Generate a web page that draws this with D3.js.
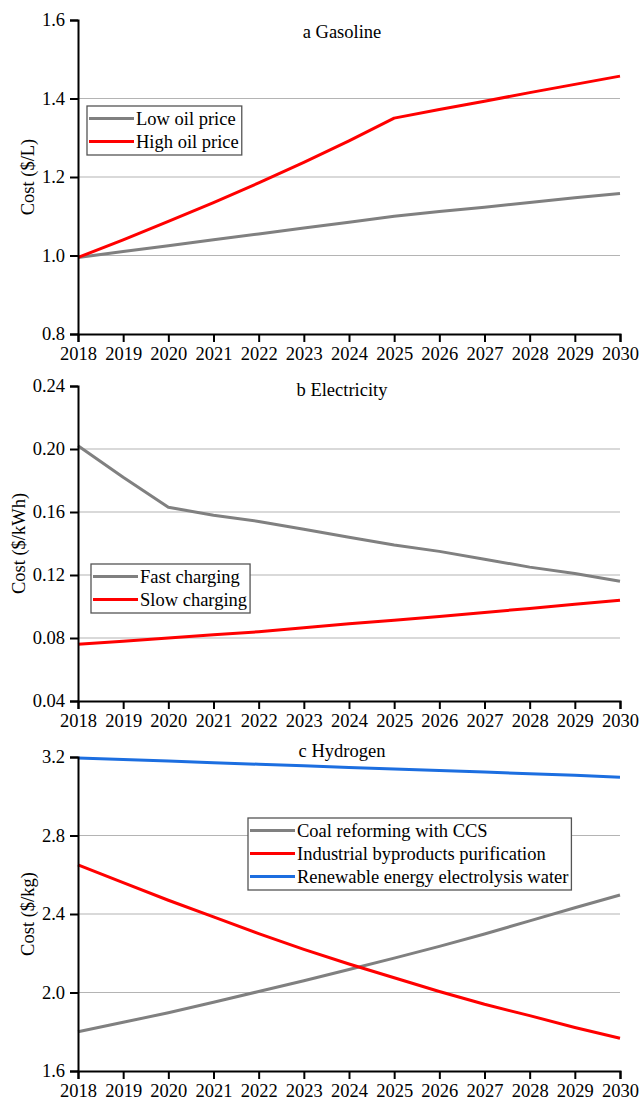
<!DOCTYPE html>
<html>
<head>
<meta charset="utf-8">
<script src="https://cdn.jsdelivr.net/npm/d3@7"></script>
<style>
  html, body { margin: 0; padding: 0; background: #fff; }
  svg { display: block; font-family: "Liberation Serif", "Times New Roman", serif; }
</style>
</head>
<body>
<svg id="chart" width="640" height="1101"></svg>
<script>
// Years on the horizontal axis
const years = [2018, 2019, 2020, 2021, 2022, 2023, 2024, 2025, 2026, 2027, 2028, 2029, 2030];

// a Gasoline ($/L)
const gasolineLow  = [0.995, 1.010, 1.025, 1.040, 1.055, 1.070, 1.085, 1.100, 1.112, 1.123, 1.135, 1.147, 1.158];
const gasolineHigh = [0.995, 1.040, 1.087, 1.135, 1.185, 1.237, 1.292, 1.350, 1.372, 1.393, 1.415, 1.436, 1.457];
const gasolineTicks = [0.8, 1.0, 1.2, 1.4, 1.6];

// b Electricity ($/kWh)
const fastCharging = [0.202, 0.182, 0.163, 0.158, 0.154, 0.149, 0.144, 0.139, 0.135, 0.130, 0.125, 0.121, 0.116];
const slowCharging = [0.076, 0.078, 0.080, 0.082, 0.084, 0.0865, 0.089, 0.0913, 0.0937, 0.0962, 0.0988, 0.1014, 0.104];
const electricityTicks = [0.04, 0.08, 0.12, 0.16, 0.20, 0.24];

// c Hydrogen ($/kg)
const coalCCS      = [1.800, 1.848, 1.897, 1.950, 2.005, 2.060, 2.117, 2.175, 2.235, 2.298, 2.365, 2.432, 2.497];
const byproducts   = [2.650, 2.560, 2.470, 2.385, 2.300, 2.220, 2.145, 2.075, 2.005, 1.940, 1.882, 1.822, 1.767];
const electrolysis = [3.195, 3.187, 3.179, 3.171, 3.163, 3.155, 3.147, 3.139, 3.131, 3.123, 3.115, 3.107, 3.097];
const hydrogenTicks = [1.6, 2.0, 2.4, 2.8, 3.2];

const GRAY = "#808080", RED = "#ff0000", BLUE = "#1c6ee0";
const FONT = "'Liberation Serif', 'Times New Roman', serif";
const FS = "18.5px";

const panels = [
  {
    title: "a Gasoline", yLabel: "Cost ($/L)", ticks: gasolineTicks, fmt: d3.format(".1f"),
    top: 20, bottom: 334, titleY: 38, labelX: 34,
    series: [
      { name: "Low oil price", values: gasolineLow, color: GRAY },
      { name: "High oil price", values: gasolineHigh, color: RED }
    ],
    legend: { x: 87, y: 106 }
  },
  {
    title: "b Electricity", yLabel: "Cost ($/kWh)", ticks: electricityTicks, fmt: d3.format(".2f"),
    top: 386, bottom: 701, titleY: 396, labelX: 25,
    series: [
      { name: "Fast charging", values: fastCharging, color: GRAY },
      { name: "Slow charging", values: slowCharging, color: RED }
    ],
    legend: { x: 91, y: 564 }
  },
  {
    title: "c Hydrogen", yLabel: "Cost ($/kg)", ticks: hydrogenTicks, fmt: d3.format(".1f"),
    top: 757, bottom: 1071, titleY: 757, labelX: 34,
    series: [
      { name: "Coal reforming with CCS", values: coalCCS, color: GRAY },
      { name: "Industrial byproducts purification", values: byproducts, color: RED },
      { name: "Renewable energy electrolysis water", values: electrolysis, color: BLUE }
    ],
    legend: { x: 248, y: 818 }
  }
];

const svg = d3.select("#chart");
const left = 78, right = 620;
const x = d3.scaleLinear().domain([years[0], years[years.length - 1]]).range([left, right]);

panels.forEach(p => {
  const g = svg.append("g");
  const y = d3.scaleLinear().domain([p.ticks[0], p.ticks[p.ticks.length - 1]]).range([p.bottom, p.top]);

  // horizontal grid at interior ticks
  g.append("g").selectAll("line")
    .data(p.ticks.slice(1, -1))
    .join("line")
    .attr("x1", left).attr("x2", right)
    .attr("y1", d => y(d)).attr("y2", d => y(d))
    .attr("stroke", "#b4b4b4").attr("stroke-width", 1.2);

  // series lines
  const line = d3.line().x((d, i) => x(years[i])).y(d => y(d));
  p.series.forEach(s => {
    g.append("path")
      .datum(s.values)
      .attr("d", line)
      .attr("fill", "none")
      .attr("stroke", s.color)
      .attr("stroke-width", 3)
      .attr("stroke-linejoin", "round");
  });

  // axes
  const xAxis = g.append("g")
    .attr("transform", `translate(0,${p.bottom})`)
    .call(d3.axisBottom(x).tickValues(years).tickFormat(d3.format("d")).tickSizeOuter(0).tickSize(8).tickPadding(5));
  const yAxis = g.append("g")
    .attr("transform", `translate(${left},0)`)
    .call(d3.axisLeft(y).tickValues(p.ticks).tickFormat(p.fmt).tickSizeOuter(0).tickSize(8).tickPadding(5));
  [xAxis, yAxis].forEach(a => {
    a.attr("font-family", FONT).attr("font-size", FS);
    a.select(".domain").attr("stroke", "#000").attr("stroke-width", 2);
    a.selectAll(".tick line").attr("stroke", "#000").attr("stroke-width", 2);
    a.selectAll(".tick text").attr("fill", "#000");
  });

  // y axis title
  g.append("text")
    .attr("transform", `translate(${p.labelX},${(p.top + p.bottom) / 2}) rotate(-90)`)
    .attr("text-anchor", "middle")
    .style("font-size", FS)
    .text(p.yLabel);

  // panel title
  g.append("text")
    .attr("x", 342).attr("y", p.titleY)
    .attr("text-anchor", "middle")
    .style("font-size", FS)
    .text(p.title);

  // legend
  const rowH = 23, lineLen = 45, pad = 2;
  const lg = g.append("g").attr("transform", `translate(${p.legend.x},${p.legend.y})`);
  const box = lg.append("rect").attr("fill", "#fff").attr("stroke", "#555").attr("stroke-width", 1.3);
  let maxW = 0;
  p.series.forEach((s, i) => {
    const cy = 12.5 + i * rowH;
    lg.append("line")
      .attr("x1", pad).attr("x2", pad + lineLen)
      .attr("y1", cy).attr("y2", cy)
      .attr("stroke", s.color).attr("stroke-width", 3);
    const t = lg.append("text")
      .attr("x", pad + lineLen + 2).attr("y", cy)
      .attr("dy", "0.35em")
      .style("font-size", FS)
      .text(s.name);
    maxW = Math.max(maxW, t.node().getComputedTextLength());
  });
  box.attr("width", pad + lineLen + 2 + maxW + 3)
     .attr("height", p.series.length * rowH + 3);
});
</script>
</body>
</html>
